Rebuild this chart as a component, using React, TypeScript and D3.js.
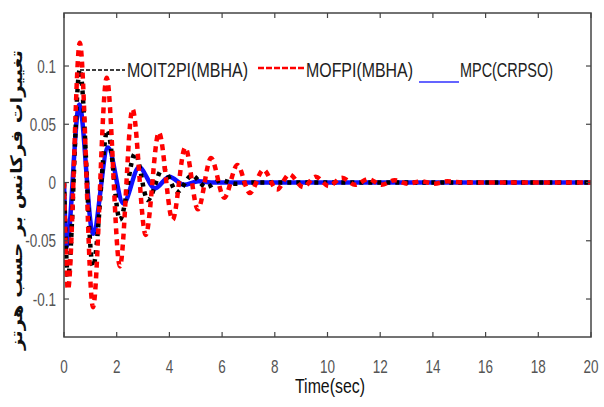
import React from "react";
import * as d3 from "d3";

const xTicks = [0, 2, 4, 6, 8, 10, 12, 14, 16, 18, 20];
const yTicks = [-0.1, -0.05, 0, 0.05, 0.1];
const yTickLabels = ["-0.1", "-0.05", "0", "0.05", "0.1"];

const tRed = [0, 0.15, 0.6, 1.1, 1.62, 2.12, 2.6, 3.1, 3.6, 4.12, 4.6, 5.08, 5.58, 6.08, 6.58, 7.05, 7.57, 8.08, 8.55, 9.08, 9.55, 10.05, 10.55, 11.05, 11.55, 12.05, 12.55, 13.05, 13.55, 14.05, 14.55, 15.2, 16, 18, 20];
const vRed = [0, -0.092, 0.12, -0.107, 0.09, -0.072, 0.063, -0.045, 0.043, -0.032, 0.03, -0.023, 0.021, -0.013, 0.015, -0.009, 0.011, -0.006, 0.007, -0.004, 0.005, -0.003, 0.004, -0.002, 0.003, -0.002, 0.002, -0.001, 0.001, -0.001, 0.001, 0, 0, 0, 0];

const tBlack = [0, 0.15, 0.6, 1.1, 1.65, 2.12, 2.7, 3.18, 3.75, 4.3, 4.85, 5.4, 5.95, 6.5, 7.2, 20];
const vBlack = [0, -0.081, 0.097, -0.072, 0.045, -0.032, 0.025, -0.015, 0.012, -0.008, 0.006, -0.004, 0.002, -0.001, 0, 0];

const tBlue = [0, 0.1, 0.58, 1.1, 1.67, 2.25, 2.85, 3.45, 4.0, 4.55, 5.1, 5.7, 6.5, 20];
const vBlue = [0, -0.055, 0.067, -0.044, 0.03, -0.018, 0.013, -0.005, 0.005, -0.002, 0.001, 0, 0, 0];

const legendNames = ["MOIT2PI(MBHA)", "MOFPI(MBHA)", "MPC(CRPSO)"];
const xLabel = "Time(sec)";
const yLabel = "تغییرات فرکانس بر حسب هرتز";

const L = 64, R = 591, T = 13, B = 337;

export default function App() {
  const x = d3.scaleLinear().domain([0, 20]).range([L, R]);
  const y = d3.scaleLinear().domain([-0.1326, 0.1455]).range([B, T]);
  const line = (ts: number[], vs: number[]) =>
    d3.line<number>().x((_, i) => x(ts[i])).y((v) => y(v)).curve(d3.curveMonotoneX)(vs) || "";
  const axisColor = "#444";
  const narrow = "'Liberation Sans Narrow', 'Liberation Sans', Arial, sans-serif";
  return (
    <svg width={604} height={407} style={{ position: "absolute", left: 0, top: 0, background: "#fff" }}>
      <rect x={0} y={0} width={604} height={407} fill="#fff" />
      <defs>
        <clipPath id="plotclip">
          <rect x={L} y={T} width={R - L} height={B - T} />
        </clipPath>
      </defs>
      <g clipPath="url(#plotclip)">
        <path d={line(tBlue, vBlue)} fill="none" stroke="#1010ff" strokeWidth={4.5} strokeLinejoin="round" />
        <path d={line(tBlack, vBlack)} fill="none" stroke="#000" strokeWidth={4.5} strokeDasharray="4,5" />
        <path d={line(tRed, vRed)} fill="none" stroke="#ff0000" strokeWidth={4.5} strokeDasharray="6,5" />
      </g>
      {/* frame */}
      <rect x={L} y={T} width={R - L} height={B - T} fill="none" stroke={axisColor} strokeWidth={1.5} />
      {xTicks.map((t) => (
        <g key={"xt" + t}>
          <line x1={x(t)} x2={x(t)} y1={B} y2={B - 5} stroke={axisColor} strokeWidth={1.2} />
          <line x1={x(t)} x2={x(t)} y1={T} y2={T + 5} stroke={axisColor} strokeWidth={1.2} />
          <text transform={`translate(${x(t)},373) scale(0.75,1)`} textAnchor="middle" fontSize={18} fill="#555" fontFamily={narrow}>
            {t}
          </text>
        </g>
      ))}
      {yTicks.map((v, i) => (
        <g key={"yt" + v}>
          <line x1={L} x2={L + 5} y1={y(v)} y2={y(v)} stroke={axisColor} strokeWidth={1.2} />
          <line x1={R} x2={R - 5} y1={y(v)} y2={y(v)} stroke={axisColor} strokeWidth={1.2} />
          <text transform={`translate(56,${y(v) + 6.5}) scale(0.75,1)`} textAnchor="end" fontSize={18} fill="#555" fontFamily={narrow}>
            {yTickLabels[i]}
          </text>
        </g>
      ))}
      {/* legend */}
      <line x1={80} x2={125} y1={70} y2={70} stroke="#000" strokeWidth={1.3} strokeDasharray="4,2" />
      <text x={127} y={77} fontSize={21} fill="#222" fontFamily={narrow} textLength={121} lengthAdjust="spacingAndGlyphs">
        {legendNames[0]}
      </text>
      <line x1={258} x2={306} y1={68} y2={68} stroke="#ff0000" strokeWidth={2.5} strokeDasharray="6,2" />
      <text x={306} y={77} fontSize={21} fill="#222" fontFamily={narrow} textLength={107} lengthAdjust="spacingAndGlyphs">
        {legendNames[1]}
      </text>
      <line x1={419} x2={459} y1={82} y2={82} stroke="#3030ff" strokeWidth={1.5} />
      <text x={460} y={77} fontSize={21} fill="#222" fontFamily={narrow} textLength={93} lengthAdjust="spacingAndGlyphs">
        {legendNames[2]}
      </text>
      {/* axis labels */}
      <text x={330} y={393} textAnchor="middle" fontSize={20} fill="#111" fontFamily={narrow} textLength={70} lengthAdjust="spacingAndGlyphs">
        {xLabel}
      </text>
      <text transform="translate(22,200) rotate(-90)" textAnchor="middle" fontSize={16} fontWeight="bold" fill="#111" fontFamily="'DejaVu Sans', sans-serif" textLength={300} lengthAdjust="spacingAndGlyphs" direction="rtl">
        {yLabel}
      </text>
    </svg>
  );
}
